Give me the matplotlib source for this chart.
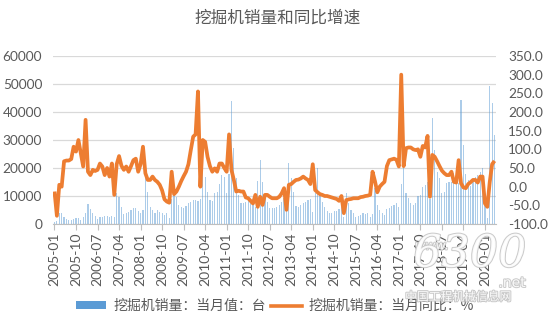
import numpy as np
import matplotlib
matplotlib.use("Agg")
import matplotlib.pyplot as plt
import matplotlib.patheffects as pe
from matplotlib.patches import Patch
from matplotlib.lines import Line2D

# Monthly excavator sales (units), 2005-01 .. 2020-05
sales_2005 = [800, 1000, 3800, 4000, 2600, 1700, 1400, 1400, 1800, 2000, 2000, 1400]
sales_2006 = [2600, 3800, 7100, 5200, 3800, 2900, 1700, 2400, 2600, 2900, 2900, 2600]
sales_2007 = [2900, 2600, 11000, 9800, 6200, 3600, 3800, 4400, 5000, 5600, 5600, 4800]
sales_2008 = [3800, 5000, 16900, 11500, 6200, 5000, 3800, 5000, 4400, 3800, 3200, 3800]
sales_2009 = [2300, 9000, 10300, 9800, 6800, 6200, 5600, 6400, 7400, 8000, 8600, 8600]
sales_2010 = [8300, 9000, 21400, 16900, 11500, 8600, 8300, 10900, 11500, 14300, 17500, 16900]
sales_2011 = [10900, 18000, 43900, 27000, 16300, 10400, 7400, 7600, 8000, 8600, 7400, 6800]
sales_2012 = [6200, 15500, 22800, 15100, 9800, 8000, 5600, 5600, 5600, 6200, 6800, 8000]
sales_2013 = [9200, 10000, 21700, 16300, 11500, 6400, 6200, 6800, 7400, 8000, 8600, 8800]
sales_2014 = [4400, 10900, 20000, 11000, 8000, 6200, 4500, 4000, 4000, 4500, 4800, 5500]
sales_2015 = [6000, 2600, 11200, 7400, 5000, 3800, 2600, 2800, 3200, 3800, 3500, 4000]
sales_2016 = [2600, 3600, 13000, 6800, 5000, 3800, 3200, 5200, 5600, 6400, 6800, 7500]
sales_2017 = [6000, 14300, 20500, 11000, 9200, 7400, 6800, 7600, 10000, 10400, 13300, 13900]
sales_2018 = [15000, 9000, 37700, 26400, 18700, 16300, 11000, 11500, 14500, 15000, 15100, 18100]
sales_2019 = [17000, 14500, 44300, 28200, 18000, 15700, 13600, 15500, 16900, 17500, 18700, 19900]
sales_2020 = [8000, 2300, 49400, 43300, 31900]

# Year-on-year growth of monthly sales (%)
yoy_2005 = [-13, -78, 5, 0, 68, 70, 70, 74, 107, 94, 125, 90]
yoy_2006 = [54, 179, 40, 31, 45, 42, 45, 62, 54, 31, 50, 27]
yoy_2007 = [62, -22, 60, 82, 56, 45, 54, 40, 55, 71, 75, 40]
yoy_2008 = [60, 107, 36, 18, 18, 27, 18, 13, 5, -10, -34, -40]
yoy_2009 = [-43, 40, -20, -13, 0, 15, 28, 40, 60, 98, 134, 140]
yoy_2010 = [255, 0, 125, 120, 80, 55, 40, 49, 40, 62, 62, 50]
yoy_2011 = [40, 140, 45, 18, -13, -11, -13, -13, -29, -31, -38, -45]
yoy_2012 = [-22, -54, -27, -49, -22, -22, -27, -31, -31, -31, -27, -18]
yoy_2013 = [-4, -62, 5, 7, 13, 18, 19, 22, 27, 22, 18, 7]
yoy_2014 = [60, -9, -15, -20, -22, -25, -25, -27, -29, -31, -33, -38]
yoy_2015 = [-25, -71, -36, -34, -33, -31, -31, -31, -28, -27, -25, -24]
yoy_2016 = [-22, 40, 15, -15, 0, 7, 13, 55, 71, 73, 75, 72]
yoy_2017 = [54, 300, 55, 103, 105, 105, 100, 98, 100, 80, 109, 105]
yoy_2018 = [136, -27, 85, 80, 68, 55, 43, 36, 31, 31, 40, 13]
yoy_2019 = [11, 71, 9, -2, -4, 7, 12, 18, 18, 11, 27, 27]
yoy_2020 = [-45, -54, 12, 60, 69]

sales = (sales_2005 + sales_2006 + sales_2007 + sales_2008 + sales_2009 + sales_2010
         + sales_2011 + sales_2012 + sales_2013 + sales_2014 + sales_2015 + sales_2016
         + sales_2017 + sales_2018 + sales_2019 + sales_2020)
yoy = (yoy_2005 + yoy_2006 + yoy_2007 + yoy_2008 + yoy_2009 + yoy_2010
       + yoy_2011 + yoy_2012 + yoy_2013 + yoy_2014 + yoy_2015 + yoy_2016
       + yoy_2017 + yoy_2018 + yoy_2019 + yoy_2020)

n = len(sales)
months = [f"{2005 + k // 12}-{k % 12 + 1:02d}" for k in range(n)]

CJK = ["Noto Sans CJK SC", "DejaVu Sans"]
NUM = "Lato"
GRAY = "#595959"
BLUE = "#5B9BD5"
ORANGE = "#ED7D31"

W, H = 550, 328
fig = plt.figure(figsize=(W / 100, H / 100), dpi=100)
x0, x1, ytop, ybot = 53.3, 495.7, 56, 224
ax = fig.add_axes([x0 / W, 1 - ybot / H, (x1 - x0) / W, (ybot - ytop) / H])
ax2 = ax.twinx()

x = np.arange(n)
ax.bar(x, sales, width=0.5, color=BLUE, alpha=0.5, linewidth=0, zorder=2)
ax2.plot(x, yoy, color=ORANGE, lw=2.7, solid_joinstyle="round", solid_capstyle="butt")

ax.set_xlim(-0.5, n - 0.5)
ax.set_ylim(0, 60000)
ax.set_yticks(range(0, 60001, 10000))
ax2.set_ylim(-100, 350)
ax2.set_yticks(np.arange(-100, 351, 50))
ax2.yaxis.set_major_formatter(lambda v, p: f"{v:.1f}")

ax.grid(axis="y", color="#d9d9d9", lw=0.9)
ax.set_axisbelow(True)
for a in (ax, ax2):
    for s in a.spines.values():
        s.set_visible(False)
ax.spines["bottom"].set_visible(True)
ax.spines["bottom"].set_color("#bfbfbf")

ax.set_xticks(x[::9])
ax.set_xticklabels(months[::9], rotation=90, fontsize=10, color=GRAY, family=NUM)
ax.tick_params(axis="x", length=4, color="#bfbfbf", pad=2)
ax.tick_params(axis="y", length=0, pad=8, labelsize=9.8, labelcolor=GRAY)
ax2.tick_params(axis="y", length=0, pad=9, labelsize=9.8, labelcolor=GRAY)
for lab in ax.get_yticklabels() + ax2.get_yticklabels():
    lab.set_family(NUM)

fig.text(278 / W, 1 - 18 / H, "挖掘机销量和同比增速", ha="center", va="center",
         fontsize=12, color=GRAY, family=CJK)

handles = [Patch(facecolor=BLUE, edgecolor="none"),
           Line2D([], [], color=ORANGE, lw=2.6)]
labels = ["挖掘机销量：当月值：台", "挖掘机销量：当月同比：%"]
fig.legend(handles, labels, loc="center", bbox_to_anchor=(275 / W, 1 - 306 / H),
           ncol=2, frameon=False, handlelength=2.2, handleheight=0.5,
           handletextpad=0.5, columnspacing=0.4,
           prop={"family": CJK, "size": 10}, labelcolor=GRAY)

# Semi-transparent site watermark over the lower right corner
halo = [pe.withStroke(linewidth=1.4, foreground="#c4c4c4")]
wm = dict(color="white", alpha=0.9, path_effects=halo, zorder=10)
fig.text(432 / W, 1 - 246 / H, "www.", fontsize=9, style="italic",
         family="DejaVu Sans", ha="center", va="center", **wm)
fig.text(470 / W, 1 - 254 / H, "6300", fontsize=32, style="italic",
         family="DejaVu Serif", ha="center", va="center", **wm)
fig.text(512 / W, 1 - 283 / H, ".net", fontsize=10,
         family="DejaVu Sans", ha="center", va="center", **wm)
fig.text(458 / W, 1 - 297 / H, "中国工程机械信息网", fontsize=8.5,
         family=CJK, ha="center", va="center", **wm)

fig.savefig("out.png", dpi=100)
